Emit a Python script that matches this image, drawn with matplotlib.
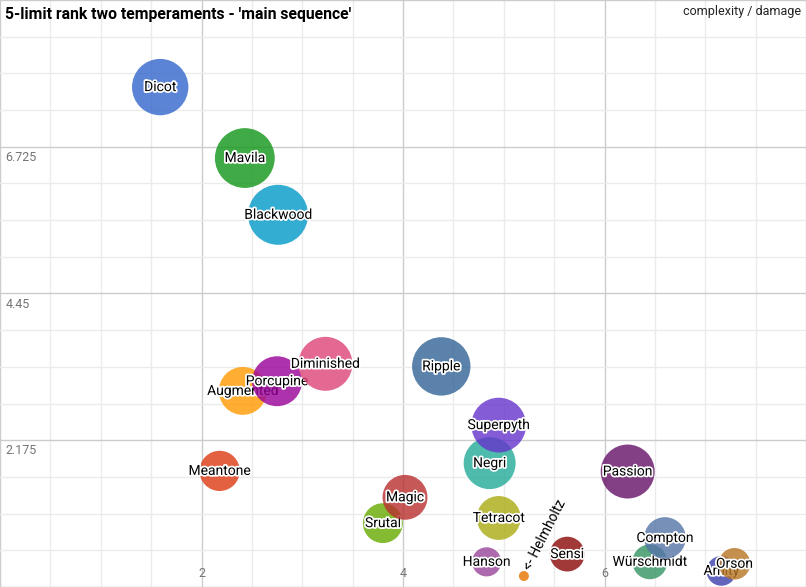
import numpy as np
import matplotlib
matplotlib.use('Agg')
import matplotlib.pyplot as plt
import matplotlib.patheffects as pe

plt.rcParams['font.family'] = ['Roboto', 'DejaVu Sans']

# data: (complexity, damage, size) per temperament, in draw order
names = ['Dicot', 'Meantone', 'Augmented', 'Mavila', 'Porcupine',
         'Blackwood', 'Diminished', 'Srutal', 'Magic', 'Ripple', 'Hanson',
         'Negri', 'Tetracot', 'Superpyth', 'Helmholtz', 'Sensi', 'Passion',
         'Würschmidt', 'Compton', 'Amity', 'Orson']
complexity = [1.59, 2.18, 2.41, 2.43, 2.75, 2.76, 3.23, 3.80, 4.02, 4.38,
              4.83, 4.86, 4.95, 4.95, 5.20, 5.63, 6.23, 6.45, 6.60, 7.16,
              7.29]
damage = [7.65, 1.70, 2.94, 6.55, 3.09, 5.67, 3.36, 0.89, 1.29, 3.32,
          0.29, 1.82, 0.97, 2.41, 0.07, 0.41, 1.69, 0.29, 0.66, 0.15, 0.26]
size = [29.0, 21.0, 24.8, 30.7, 25.8, 30.8, 27.8, 20.8, 23.3, 30.0,
        15.5, 26.8, 22.8, 28.2, 6.0, 18.3, 27.8, 18.3, 21.7, 15.8, 16.7]

colors = ['#3366cc', '#dc3912', '#ff9900', '#109618', '#990099',
          '#0099c6', '#dd4477', '#66aa00', '#b82e2e', '#316395', '#994499',
          '#22aa99', '#aaaa11', '#6633cc', '#e67300', '#8b0707', '#651067',
          '#329262', '#5574a6', '#3b3eac', '#b77322']

x_ticks = [2, 4, 6]
y_ticks = [2.175, 4.45, 6.725]

fig = plt.figure(figsize=(8.06, 5.87), dpi=100)
ax = fig.add_axes([0, 0, 1, 1])
ax.set_xlim(0, 8)
ax.set_ylim(-0.1, 9.0)

# grid
for v in np.arange(0, 8.01, 0.5):
    ax.axvline(v, color='#cccccc' if v % 2 == 0 else '#ebebeb', lw=1, zorder=0)
for v in np.arange(-0.1, 9.01, 2.275 / 4):
    major = abs(((v + 0.1) / 2.275) - round((v + 0.1) / 2.275)) < 1e-6
    ax.axhline(v, color='#cccccc' if major else '#ebebeb', lw=1, zorder=0)

for s in ax.spines.values():
    s.set_visible(False)
ax.set_xticks([])
ax.set_yticks([])

# bubbles, scaled like google charts (min 5px, max 30px radius)
smin, smax = min(size), max(size)
halo = [pe.withStroke(linewidth=2.5, foreground='white')]
z = 2
for i, name in enumerate(names):
    r = 5 + (size[i] - smin) / (smax - smin) * 25
    area = (2 * r * 0.72) ** 2
    ax.scatter(complexity[i], damage[i], s=area, color=colors[i], alpha=0.8,
               edgecolors='none', zorder=z)
    if name != 'Helmholtz':
        ax.text(complexity[i], damage[i], name, ha='center', va='center',
                fontsize=10, color='black', path_effects=halo, zorder=z + 1)
    z += 2

i = names.index('Helmholtz')
ax.annotate('<- Helmholtz', (complexity[i], damage[i]), xytext=(7, 3),
            textcoords='offset points', rotation=63, rotation_mode='anchor',
            ha='left', va='bottom', fontsize=10, zorder=z)

# axis labels inside the chart area
for t in x_ticks:
    ax.annotate(str(t), (t, -0.1), xytext=(0, 10), textcoords='offset points',
                ha='center', va='center', fontsize=9, color='#757575')
for t in y_ticks:
    ax.annotate(str(t), (0, t), xytext=(4, -3), textcoords='offset points',
                ha='left', va='top', fontsize=9, color='#757575')

fig.text(5 / 806, 1 - 14 / 587, "5-limit rank two temperaments - 'main sequence'",
         ha='left', va='center', fontsize=11.3, fontweight='bold', color='#000000')
fig.text(801 / 806, 1 - 12 / 587, 'complexity / damage', ha='right',
         va='center', fontsize=9, color='#222222')

fig.savefig('out.png', dpi=100)
